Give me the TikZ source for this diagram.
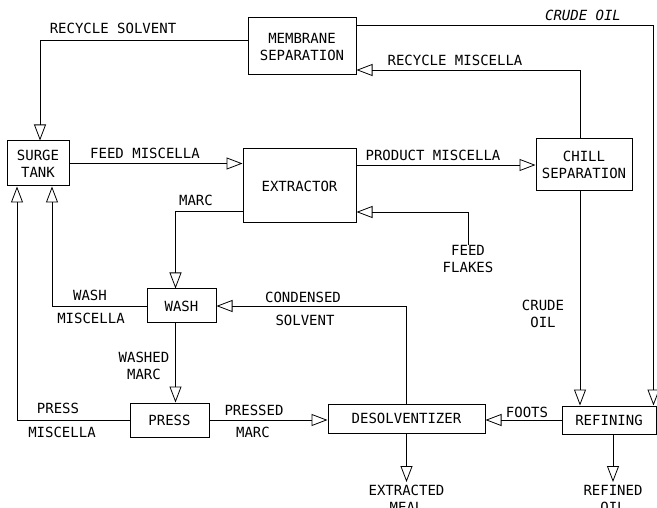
\documentclass[tikz,border=0pt]{standalone}
\usepackage{fontspec}
\setmonofont{DejaVu Sans Mono}
\usetikzlibrary{arrows.meta}

\begin{document}
\begin{tikzpicture}[
        x=1pt, y=-1pt,
        >={Triangle[open,length=16pt,width=12pt]},
        box/.style={
            rectangle,
            draw=black,
            line width=1pt,
            align=center,
            inner sep=0pt,
            font=\fontsize{14}{17}\selectfont\ttfamily
        },
        lbl/.style={
            inner sep=0pt,
            align=center,
            font=\fontsize{14}{17}\selectfont\ttfamily
        },
        arrow/.style={->, line width=0.8pt, draw=black}
    ]

    \useasboundingbox (0,0) rectangle (657,508);
    \clip (0,0) rectangle (657,508);

    \node[box, minimum width=62pt,  minimum height=45pt] (surge)     at (38,163.5)  {SURGE\\TANK};
    \node[box, minimum width=108pt, minimum height=57pt] (membrane)  at (302,46.5)  {MEMBRANE\\SEPARATION};
    \node[box, minimum width=113pt, minimum height=74pt] (extractor) at (299.5,186) {EXTRACTOR};
    \node[box, minimum width=96pt,  minimum height=52pt] (chill)     at (584,165)   {CHILL\\SEPARATION};
    \node[box, minimum width=69pt,  minimum height=34pt] (wash)      at (181.5,306) {WASH};
    \node[box, minimum width=79pt,  minimum height=34pt] (press)     at (169.5,420) {PRESS};
    \node[box, minimum width=157pt, minimum height=29pt] (desolv)    at (406.5,418.5) {DESOLVENTIZER};
    \node[box, minimum width=94pt,  minimum height=28pt] (refining)  at (609,420)   {REFINING};

    \node[lbl] (flakes) at (468,259) {FEED\\FLAKES};
    \node[lbl, anchor=north] (meal) at (406.5,485) {EXTRACTED\\MEAL};
    \node[lbl, anchor=north] (oil)  at (613,485)   {REFINED\\OIL};

    % stream labels
    \node[lbl] at (113,28)  {RECYCLE SOLVENT};
    \node[lbl] at (583,15)  {\itshape CRUDE OIL};
    \node[lbl] at (455,60)  {RECYCLE MISCELLA};
    \node[lbl] at (145,153) {FEED MISCELLA};
    \node[lbl] at (433,155) {PRODUCT MISCELLA};
    \node[lbl] at (196,200) {MARC};
    \node[lbl] at (543,314) {CRUDE\\OIL};
    \node[lbl] at (90,295)  {WASH};
    \node[lbl] at (91,318)  {MISCELLA};
    \node[lbl] at (303,297) {CONDENSED};
    \node[lbl] at (305,320) {SOLVENT};
    \node[lbl] at (144,366) {WASHED\\MARC};
    \node[lbl] at (58,408)  {PRESS};
    \node[lbl] at (62,432)  {MISCELLA};
    \node[lbl] at (254,410) {PRESSED};
    \node[lbl] at (253,432) {MARC};
    \node[lbl] at (527,412) {FOOTS};

    \draw[arrow] ([yshift=6.5pt]membrane.west) -| ([xshift=2pt]surge.north);
    \draw[arrow] ([yshift=21.5pt]membrane.east) -| ([xshift=-3pt]refining.north east);
    \draw[arrow] ([xshift=-4pt]chill.north) |- ([yshift=-23.5pt]membrane.east);
    \draw[arrow] (surge.east) -- (surge.east -| extractor.west);
    \draw[arrow] (extractor.east |- chill.west) -- (chill.west);
    \draw[arrow] ([yshift=-25pt]extractor.west) -| ([xshift=-6pt]wash.north);
    \draw[arrow] (flakes.north) |- ([yshift=-26pt]extractor.east);
    \draw[arrow] (wash.west) -| ([xshift=14pt]surge.south);
    \draw[arrow] (press.west) -| ([xshift=-21pt]surge.south);
    \draw[arrow] (desolv.north) |- (wash.east);
    \draw[arrow] ([xshift=-6pt]wash.south) -- ([xshift=-6pt]wash.south |- press.north);
    \draw[arrow] (press.east) -- (press.east -| desolv.west);
    \draw[arrow] (refining.west) -- (refining.west -| desolv.east);
    \draw[arrow] ([xshift=-4pt]chill.south) -- ([xshift=-4pt]chill.south |- refining.north);
    \draw[arrow] (desolv.south) -- ([yshift=3pt]meal.north);
    \draw[arrow] (oil.north |- refining.south) -- ([yshift=3pt]oil.north);

\end{tikzpicture}
\end{document}
